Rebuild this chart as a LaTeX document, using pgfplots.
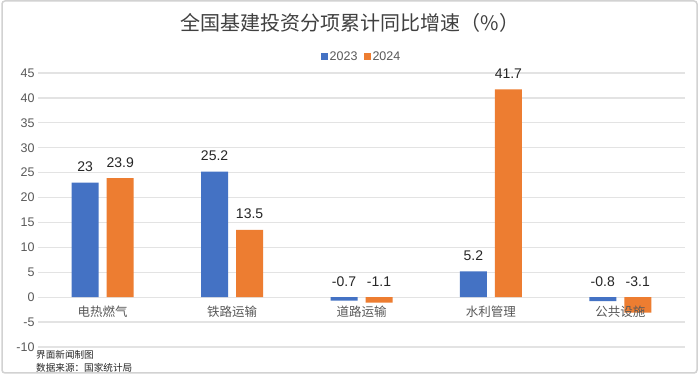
\documentclass[border=0pt]{standalone}
\usepackage{pgfplots}
\pgfplotsset{compat=1.18}
\usepackage{pgfplotstable}
\usepackage{fontspec}
\setmainfont{Liberation Sans}
\newfontfamily\cjk{Noto Sans CJK SC}
\definecolor{cblue}{HTML}{4472C4}
\definecolor{corange}{HTML}{ED7D31}
\definecolor{gridc}{HTML}{E3E3E3}
\definecolor{txt}{HTML}{595959}
\definecolor{ttl}{HTML}{404040}
\definecolor{brd}{HTML}{D2D2D2}

\pgfplotstableread{
x a b name
0 23 23.9 电热燃气
1 25.2 13.5 铁路运输
2 -0.7 -1.1 道路运输
3 5.2 41.7 水利管理
4 -0.8 -3.1 公共设施
}\data

\begin{document}
\begin{tikzpicture}
\useasboundingbox (0,0) rectangle (700pt,387pt);
\fill[white] (0,0) rectangle (700pt,387pt);
\draw[brd, line width=1.5pt, rounded corners=3pt] (2pt,14pt) rectangle (697pt,386pt);
\node[font=\cjk\fontsize{20}{23}\selectfont, text=ttl] at (350pt,364pt) {全国基建投资分项累计同比增速（\%）};
\node[anchor=west, inner sep=0pt, font=\cjk\fontsize{9.6}{11}\selectfont, text=black!85] at (36pt,32pt) {界面新闻制图};
\node[anchor=west, inner sep=0pt, font=\cjk\fontsize{9.6}{11}\selectfont, text=black!85] at (36pt,19pt) {数据来源：国家统计局};
\begin{axis}[at={(38pt,40pt)}, anchor=south west, scale only axis, width=647pt, height=274pt,
 xmin=-0.5, xmax=4.5, ymin=-10, ymax=45, ytick={-10,-5,...,45},
 xtick={0,...,4}, xticklabels={},
 yticklabel style={font=\fontsize{12.5}{14}\selectfont, text=txt},
 /pgf/number format/assume math mode=true,
 ymajorgrids, grid style={gridc, line width=1.2pt},
 axis line style={draw=none}, major tick length=0pt,
 legend style={at={(0.5,1)}, anchor=south, yshift=7pt, draw=none, fill=none, legend columns=2,
   font=\fontsize{12.5}{14}\selectfont, text=txt,
   /tikz/every even column/.append style={column sep=4pt}},
 legend image code/.code={\fill[#1] (0pt,-3.5pt) rectangle (7pt,3.5pt);},
]
\addplot[ybar, bar width=27pt, bar shift=-17.5pt, fill=cblue, draw=none] table[x=x,y=a]{\data};
\addlegendentry{2023}
\addplot[ybar, bar width=27pt, bar shift=17.5pt, fill=corange, draw=none] table[x=x,y=b]{\data};
\addlegendentry{2024}
\addplot[draw=none, mark=none, forget plot,
  nodes near coords, point meta=explicit,
  nodes near coords style={anchor=base, xshift=-17.5pt, yshift=11pt, font=\fontsize{14}{16}\selectfont, text=black!85}]
  table[x=x, y expr={max(\thisrow{a},0)}, meta=a]{\data};
\addplot[draw=none, mark=none, forget plot,
  nodes near coords, point meta=explicit,
  nodes near coords style={anchor=base, xshift=17.5pt, yshift=11pt, font=\fontsize{14}{16}\selectfont, text=black!85}]
  table[x=x, y expr={max(\thisrow{b},0)}, meta=b]{\data};
\addplot[draw=none, mark=none, forget plot,
  nodes near coords, point meta=explicit symbolic,
  nodes near coords style={anchor=center, yshift=-15pt, font=\cjk\fontsize{12.5}{14}\selectfont, text=txt}]
  table[x=x, y expr=0, meta=name]{\data};
\end{axis}
\end{tikzpicture}
\end{document}
